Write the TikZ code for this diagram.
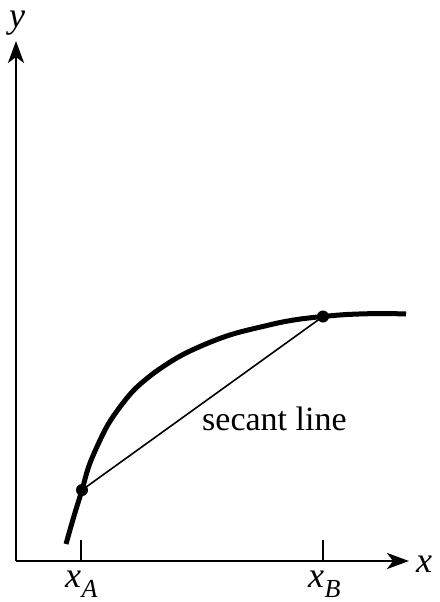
\documentclass[tikz,border=0pt]{standalone}
\usepackage{fontspec}
\setmainfont{Liberation Serif}
\usetikzlibrary{arrows.meta}
\begin{document}
\begin{tikzpicture}[x=1pt,y=-1pt,
 axis/.style={line width=2.8pt, -{Stealth[length=22pt,width=16pt,inset=6pt]}},
 curvestyle/.style={line width=5pt},
 secant/.style={line width=1.6pt},
 tickstyle/.style={line width=1.6pt},
 dot/.style={circle, fill=black, inner sep=0pt, minimum size=12pt},
 lbl/.style={font=\fontsize{36}{42}\selectfont\itshape, inner sep=0pt},
 sub/.style={font=\fontsize{26}{30}\selectfont\itshape, inner sep=0pt},
 txt/.style={font=\fontsize{34}{40}\selectfont, inner sep=0pt}]
\useasboundingbox (0,0) rectangle (439,602);
\coordinate (O) at (16,561);
\coordinate (Xend) at (409,561);
\coordinate (Yend) at (16,41);
\draw[axis] (O) -- (Xend);
\draw[axis] (O) -- (Yend);
\node[lbl, anchor=base west] (xl) at (416,572) {x};
\node[lbl, anchor=base west] (yl) at (9,28) {y};
% ticks
\coordinate (TA) at (81,540);
\coordinate (TAb) at (81,561);
\coordinate (TB) at (323,540);
\coordinate (TBb) at (323,561);
\draw[tickstyle] (TA) -- (TAb);
\draw[tickstyle] (TB) -- (TBb);
\node[lbl, anchor=base west] (xA) at (65,587) {x};
\node[sub, anchor=base west] (xAs) at (xA.base east) [yshift=-10pt] {A};
\node[lbl, anchor=base west] (xB) at (308,587) {x};
\node[sub, anchor=base west] (xBs) at (xB.base east) [yshift=-10pt] {B};
% curve
\draw[curvestyle] plot[smooth, tension=0.55] coordinates {(66,544) (74,516) (82,490) (90,463) (105,430) (117,411) (133,391) (150,376) (167,364) (183,354.5) (200,346.5) (217,339.5) (233,334) (250,329.5) (265,326) (280,322.5) (297,319.5) (313,317.5) (323,316.5) (347,314.5) (380,313.5) (406,314)};
\node[dot] (A) at (82,490) {};
\node[dot] (B) at (323,316.5) {};
\draw[secant] (A.center) -- (B.center);
\node[txt, anchor=base west] (sl) at (202,430) {secant line};
\end{tikzpicture}
\end{document}
